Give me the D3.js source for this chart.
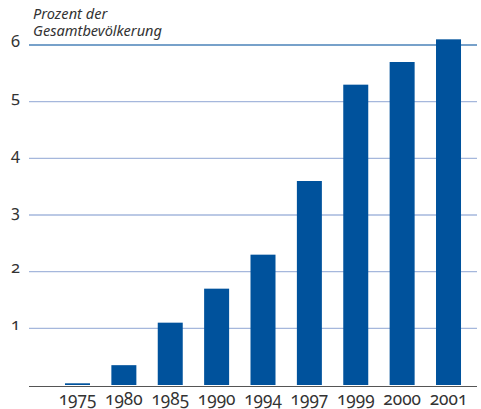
<!DOCTYPE html>
<html><head><meta charset="utf-8">
<script src="https://cdn.jsdelivr.net/npm/d3@7"></script>
<style>
body{margin:0;background:#fff;}
svg text{font-family:"Noto Sans",sans-serif;fill:#333;font-variant-numeric:oldstyle-nums;font-feature-settings:"onum" 1;}
</style></head>
<body><svg id="c" width="481" height="409"></svg>
<script>
const categories = ["1975","1980","1985","1990","1994","1997","1999","2000","2001"];
const values = [0.03, 0.35, 1.1, 1.7, 2.3, 3.6, 5.3, 5.7, 6.1];
const yTicks = [1, 2, 3, 4, 5, 6];
const titleLines = ["Prozent der", "Gesamtbevölkerung"];

const svg = d3.select("#c");
const x = d3.scaleBand().domain(categories).range([54.3, 471.7]).paddingInner(0.461).paddingOuter(0.2305);
const y = d3.scaleLinear().domain([0, 6]).range([385, 45]);

// gridlines
svg.append("g").selectAll("line").data(yTicks).join("line")
  .attr("x1", 29).attr("x2", 477)
  .attr("y1", d => y(d)).attr("y2", d => y(d))
  .attr("stroke", d => d === 6 ? "#4a82b8" : "#a5b7dc")
  .attr("stroke-width", d => d === 6 ? 1.6 : 1.3);

// bars
svg.append("g").selectAll("rect").data(values).join("rect")
  .attr("x", (d, i) => x(categories[i]))
  .attr("width", x.bandwidth())
  .attr("y", d => y(d))
  .attr("height", d => y(0) - y(d))
  .attr("fill", "#00529c");

// baseline
svg.append("line").attr("x1", 29).attr("x2", 477).attr("y1", 386.5).attr("y2", 386.5)
  .attr("stroke", "#555").attr("stroke-width", 1.2);

// y axis labels
const yAxis = d3.axisLeft(y).tickValues(yTicks).tickSize(0).tickPadding(0).tickFormat(d3.format("d"));
const gy = svg.append("g").attr("transform", "translate(20,0)").call(yAxis);
gy.select(".domain").remove();
gy.selectAll("text").attr("font-size", 16.5).attr("dy", "0.07em").style("font-family", "'Noto Sans',sans-serif").attr("fill", "#333");

// x axis labels
const xAxis = d3.axisBottom(x).tickSize(0).tickPadding(0);
const gx = svg.append("g").attr("transform", "translate(0,405)").call(xAxis);
gx.select(".domain").remove();
gx.selectAll("text").attr("font-size", 17.2).attr("dy", "0").style("font-family", "'Noto Sans',sans-serif").attr("fill", "#333");

// title
svg.append("text").attr("x", 33).attr("y", 19).attr("font-size", 14.6).attr("font-style", "italic")
  .selectAll("tspan").data(titleLines).join("tspan")
  .attr("x", 33).attr("dy", (d, i) => i === 0 ? 0 : 16.5).text(d => d);
</script></body></html>
